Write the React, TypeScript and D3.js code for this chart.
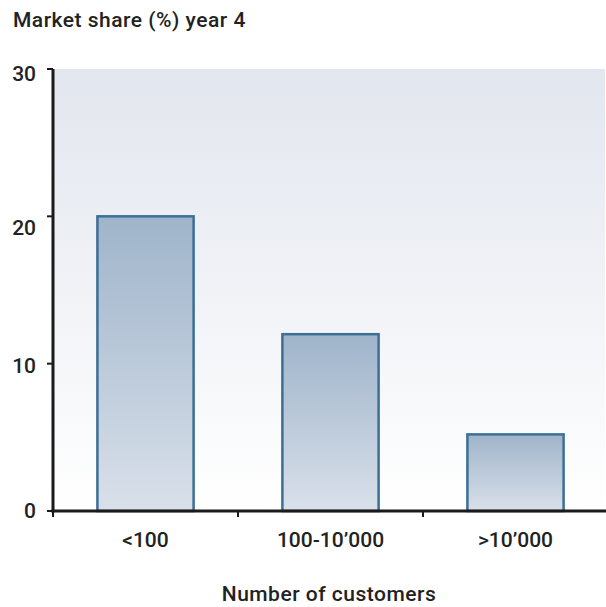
import React from "react";
import * as d3 from "d3";

const categories = ["<100", "100-10\u2019000", ">10\u2019000"];
const values = [20, 12, 5.2];
const yTicks = [0, 10, 20, 30];
const title = "Market share (%) year 4";
const xTitle = "Number of customers";

const W = 606;
const H = 607;
const M = { left: 53, right: 606, top: 69, bottom: 511 };
const FONT = "Roboto, 'DejaVu Sans', sans-serif";
const FS = 21;
const LS = 0.5;
// vertical nudges of y tick labels, as placed in the reference
const yLabelNudge: Record<number, number> = { 0: 0, 10: 2, 20: 12, 30: 5 };

export default function App() {
  const x = d3
    .scaleBand<string>()
    .domain(categories)
    .range([M.left, 608])
    .paddingInner(0.48)
    .paddingOuter(0.24);
  const y = d3.scaleLinear().domain([0, 30]).range([M.bottom, M.top]);
  const xTickPos = [
    M.left,
    ...categories.slice(1).map((c) => x(c)! - (x.step() - x.bandwidth()) / 2),
  ];

  return (
    <svg
      width={W}
      height={H}
      style={{ position: "absolute", left: 0, top: 0, display: "block" }}
    >
      <defs>
        <linearGradient id="bg" x1="0" y1="0" x2="0" y2="1">
          <stop offset="0%" stopColor="#e2e6ee" />
          <stop offset="100%" stopColor="#ffffff" />
        </linearGradient>
        <linearGradient id="bar" x1="0" y1="0" x2="0" y2="1">
          <stop offset="0%" stopColor="#9fb4ca" />
          <stop offset="100%" stopColor="#d9e0ea" />
        </linearGradient>
      </defs>
      <rect x={0} y={0} width={W} height={H} fill="#ffffff" />
      <rect
        x={M.left}
        y={M.top}
        width={605 - M.left}
        height={M.bottom - M.top}
        fill="url(#bg)"
      />
      {categories.map((c, i) => (
        <rect
          key={c}
          x={x(c)!}
          y={y(values[i])}
          width={x.bandwidth()}
          height={y(0) - y(values[i])}
          fill="url(#bar)"
          stroke="#3b6f96"
          strokeWidth={2.5}
        />
      ))}
      {/* y axis */}
      <line x1={M.left} x2={M.left} y1={M.top} y2={M.bottom + 1.5} stroke="#1a1a1a" strokeWidth={3} />
      {yTicks.map((t) => (
        <g key={t}>
          <line x1={M.left - 6} x2={M.left} y1={y(t)} y2={y(t)} stroke="#1a1a1a" strokeWidth={2} />
          <text
            x={36}
            y={y(t) + 7 + (yLabelNudge[t] ?? 0)}
            textAnchor="end"
            fontFamily={FONT}
            fontWeight={500}
            fontSize={FS}
            fill="#222"
          >
            {t}
          </text>
        </g>
      ))}
      {/* x axis */}
      <line x1={M.left - 1.5} x2={W} y1={M.bottom} y2={M.bottom} stroke="#1a1a1a" strokeWidth={3} />
      {xTickPos.map((p, i) => (
        <line key={i} x1={p} x2={p} y1={M.bottom} y2={M.bottom + 6} stroke="#1a1a1a" strokeWidth={2} />
      ))}
      {categories.map((c) => (
        <text
          key={c}
          x={x(c)! + x.bandwidth() / 2}
          y={547}
          textAnchor="middle"
          fontFamily={FONT}
          fontWeight={500}
          fontSize={FS}
          fill="#222"
        >
          {c}
        </text>
      ))}
      <text
        x={13}
        y={27}
        fontFamily={FONT}
        fontWeight={500}
        fontSize={FS}
        letterSpacing={LS}
        fill="#222"
      >
        {title}
      </text>
      <text
        x={329}
        y={601}
        textAnchor="middle"
        fontFamily={FONT}
        fontWeight={500}
        fontSize={FS}
        letterSpacing={LS}
        fill="#222"
      >
        {xTitle}
      </text>
    </svg>
  );
}
